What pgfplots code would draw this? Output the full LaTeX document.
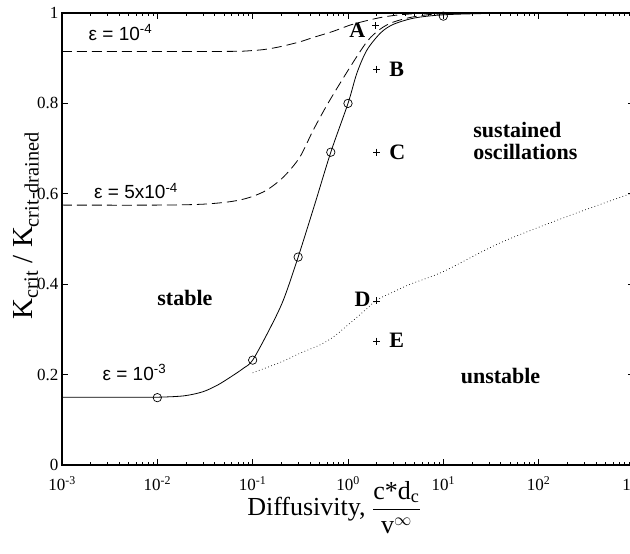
\documentclass[border=0pt]{standalone}
\usepackage{pgfplots}
\pgfplotsset{compat=1.18}
\usepackage{amsmath}
\usepackage{fontspec}
\setmainfont{Liberation Serif}
\newfontfamily\sansf{Liberation Sans}
\begin{document}
\begin{tikzpicture}
\begin{axis}[
  at={(0,0)}, anchor=south west,
  scale only axis, width=572pt, height=452pt,
  xmode=log, xmin=1e-3, xmax=1e3, ymin=0, ymax=1,
  xtick={1e-3,1e-2,1e-1,1,1e1,1e2,1e3},
  xticklabels={10\textsuperscript{-3},10\textsuperscript{-2},10\textsuperscript{-1},10\textsuperscript{0},10\textsuperscript{1},10\textsuperscript{2},10\textsuperscript{3}},
  ytick={0,0.2,0.4,0.6,0.8,1},
  yticklabels={0,0.2,0.4,0.6,0.8,1},
  xticklabel style={font=\fontsize{17}{20}\selectfont, yshift=-8pt},
  yticklabel style={font=\fontsize{17}{20}\selectfont},
  major tick length=6pt, minor tick length=3pt,
  axis line style={line width=1.1pt},
  tick style={black, line width=0.6pt},
  clip=false,
  xlabel={Diffusivity, $\dfrac{\text{c*d}_{\text{c}}}{\text{v}^{\infty}}$},
  xlabel style={font=\fontsize{26}{30}\selectfont, at={(axis description cs:0.5,0)}, anchor=base, yshift=-51pt, xshift=-14pt},
  ylabel={K\textsubscript{crit} / K\textsubscript{crit-drained}},
  ylabel style={font=\fontsize{29}{33}\selectfont, at={(axis description cs:0,0.53)}, anchor=base, yshift=29pt},
]
% epsilon = 1e-3 (solid)
\addplot[black, line width=0.8pt, smooth] coordinates {
(1e-3,0.150)(5e-3,0.150)(0.01,0.150)(0.019,0.153)(0.03,0.162)(0.043,0.177)(0.06,0.196)(0.08,0.214)(0.1,0.232)(0.15,0.300)(0.21,0.365)(0.3,0.460)(0.45,0.578)(0.66,0.692)(1,0.800)(1.24,0.867)(1.58,0.918)(2.2,0.956)(3,0.975)(5,0.989)(10,0.996)(30,0.999)(100,1.0)(1000,1.0)};
% circles on solid
\addplot[black, only marks, mark=o, mark size=4.2pt, mark options={line width=0.7pt}] coordinates {
(0.01,0.149)(0.1,0.232)(0.3,0.460)(0.66,0.692)(1,0.800)(10,0.993)};
% epsilon = 5e-4 (dashed)
\addplot[black, line width=0.8pt, smooth, dash pattern=on 10pt off 5pt] coordinates {
(1e-3,0.575)(0.01,0.575)(0.03,0.577)(0.06,0.583)(0.093,0.592)(0.14,0.608)(0.21,0.637)(0.31,0.680)(0.43,0.740)(0.62,0.801)(1.05,0.880)(1.6,0.938)(2.2,0.965)(3,0.980)(5,0.992)(10,0.998)(100,1.0)(1000,1.0)};
% epsilon = 1e-4 (dashed)
\addplot[black, line width=0.8pt, smooth, dash pattern=on 10pt off 5pt] coordinates {
(1e-3,0.915)(0.05,0.915)(0.1,0.917)(0.14,0.920)(0.2,0.926)(0.31,0.936)(0.45,0.947)(0.69,0.959)(1.12,0.975)(2.2,0.990)(4,0.997)(10,1.0)(1000,1.0)};
% dotted boundary
\addplot[black, line width=0.7pt, smooth, dash pattern=on 0.7pt off 2.6pt] coordinates {
(0.1,0.204)(0.2,0.228)(0.32,0.248)(0.5,0.265)(0.7,0.283)(1,0.310)(1.26,0.328)(1.6,0.347)(2,0.365)(3,0.383)(4.5,0.400)(10,0.428)(40,0.492)(200,0.550)(1000,0.603)};
% points A-E
\addplot[black, only marks, mark=+, mark size=3.5pt, mark options={line width=0.6pt}] coordinates {
(1.95,0.972)(2.0,0.876)(2.0,0.692)(2.0,0.363)(2.0,0.274)};
% labels
\node[font=\sansf\fontsize{19}{22}\selectfont, anchor=base west] at (axis cs:1.75e-3,0.940) {ε = 10\textsuperscript{-4}};
\node[font=\sansf\fontsize{19}{22}\selectfont, anchor=base west] at (axis cs:2.0e-3,0.590) {ε = 5x10\textsuperscript{-4}};
\node[font=\sansf\fontsize{19}{22}\selectfont, anchor=base west] at (axis cs:2.45e-3,0.188) {ε = 10\textsuperscript{-3}};
\node[font=\fontsize{22}{25}\selectfont\bfseries, anchor=base west] at (axis cs:0.0092,0.352) {stable};
\node[font=\fontsize{22}{25}\selectfont\bfseries, anchor=base west] at (axis cs:0.95,0.945) {A};
\node[font=\fontsize{22}{25}\selectfont\bfseries, anchor=base west] at (axis cs:2.5,0.860) {B};
\node[font=\fontsize{22}{25}\selectfont\bfseries, anchor=base west] at (axis cs:2.5,0.675) {C};
\node[font=\fontsize{22}{25}\selectfont\bfseries, anchor=base west] at (axis cs:1.08,0.350) {D};
\node[font=\fontsize{22}{25}\selectfont\bfseries, anchor=base west] at (axis cs:2.5,0.259) {E};
\node[font=\fontsize{22}{25}\selectfont\bfseries, anchor=base west, align=left] at (axis cs:19,0.675) {sustained\\[-3pt]oscillations};
\node[font=\fontsize{22}{25}\selectfont\bfseries, anchor=base west] at (axis cs:14,0.181) {unstable};
\end{axis}
\pgfresetboundingbox
\useasboundingbox (-62pt,-89pt) rectangle (568pt,465pt);
\end{tikzpicture}
\end{document}
